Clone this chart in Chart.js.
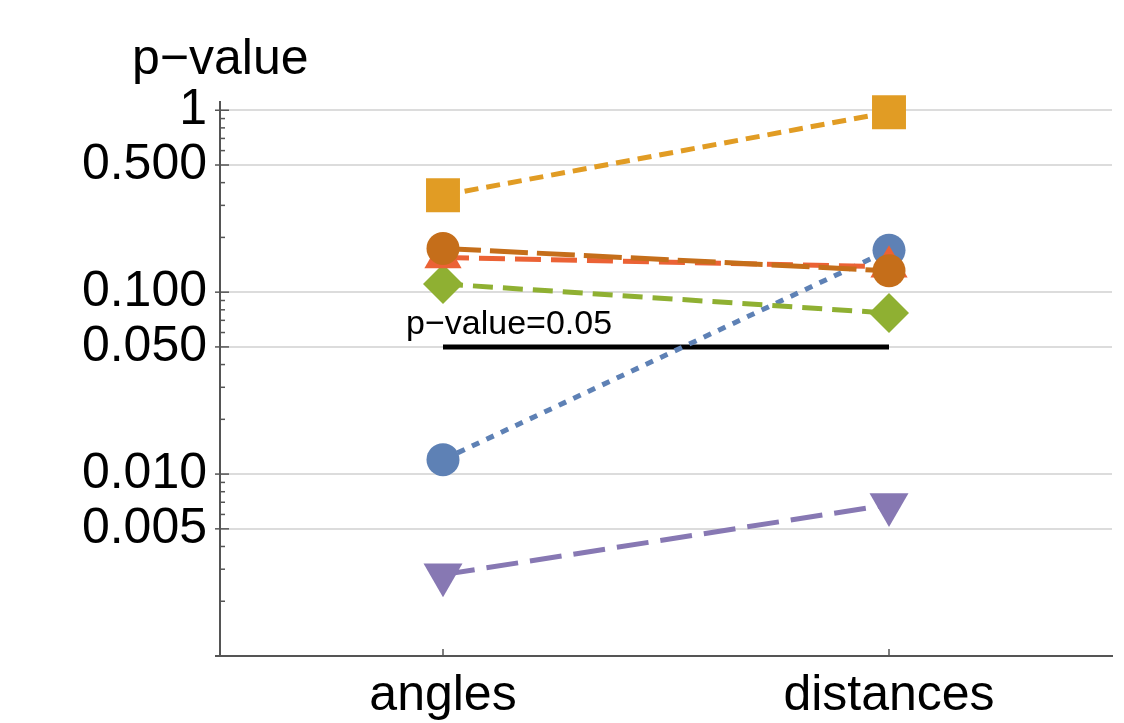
<!DOCTYPE html>
<html>
<head>
<meta charset="utf-8">
<script src="https://cdn.jsdelivr.net/npm/chart.js@4.4.1/dist/chart.umd.min.js"></script>
<style>
    html, body { margin: 0; padding: 0; background: #fff; }
</style>
</head>
<body>
<canvas id="pvalueChart" width="1124" height="723"></canvas>
<script>
// data
const categories = ['angles', 'distances'];
const blueValues = [0.0120, 0.170];
const orangeValues = [0.341, 0.975];
const greenValues = [0.111, 0.0767];
const redValues = [0.155, 0.138];
const purpleValues = [0.0028, 0.0068];
const brownValues = [0.174, 0.131];
const thresholdValues = [0.05, 0.05];
const thresholdLabel = 'p\u2212value=0.05';
const yTitle = 'p\u2212value';
const yTickValues = [1, 0.5, 0.1, 0.05, 0.01, 0.005];
const yTickLabels = ['1', '0.500', '0.100', '0.050', '0.010', '0.005'];

const FONT = '"Liberation Sans", Arial, sans-serif';
const AXIS_COLOR = '#555555';

function majorIndex(v) {
    return yTickValues.findIndex(t => Math.abs(t - v) / t < 1e-6);
}

// minor ticks every 1..9 per decade, like the original axis
function buildLogTicks() {
    const out = [];
    [0.001, 0.01, 0.1].forEach(d => {
        for (let m = 1; m <= 9; m++) {
            if (d === 0.001 && m === 1) continue;
            out.push({ value: Number((m * d).toPrecision(3)) });
        }
    });
    out.push({ value: 1 });
    return out;
}

// ticks drawn inside the axes, title and threshold text
const extrasPlugin = {
    id: 'extras',
    afterDraw(chart) {
        const ctx = chart.ctx;
        const x = chart.scales.x;
        const y = chart.scales.y;
        const area = chart.chartArea;
        ctx.save();
        ctx.strokeStyle = AXIS_COLOR;
        ctx.lineWidth = 1.5;
        y.ticks.forEach(t => {
            const py = y.getPixelForValue(t.value);
            const major = majorIndex(t.value) >= 0;
            ctx.beginPath();
            ctx.moveTo(area.left - (major ? 5 : 0), py);
            ctx.lineTo(area.left + (major ? 9 : 5), py);
            ctx.stroke();
        });
        categories.forEach((c, i) => {
            const px = x.getPixelForValue(i);
            ctx.beginPath();
            ctx.moveTo(px, area.bottom);
            ctx.lineTo(px, area.bottom - 7);
            ctx.stroke();
        });
        // axis line runs a little past the y axis, as in the original
        ctx.lineWidth = 2;
        ctx.beginPath();
        ctx.moveTo(area.left - 5, area.bottom);
        ctx.lineTo(area.left, area.bottom);
        ctx.stroke();

        ctx.fillStyle = '#000';
        ctx.textBaseline = 'alphabetic';
        ctx.textAlign = 'left';
        ctx.font = '50px ' + FONT;
        ctx.fillText(yTitle, 132, 74);

        ctx.font = '34px ' + FONT;
        ctx.fillText(thresholdLabel, x.getPixelForValue(0) - 37, y.getPixelForValue(thresholdValues[0]) - 13);
        ctx.restore();
    }
};

function series(data, color, style, radius, dash, order, rotation) {
    return {
        data: data,
        borderColor: color,
        backgroundColor: color,
        borderWidth: 5,
        borderDash: dash,
        pointStyle: style,
        pointRadius: radius,
        pointRotation: rotation || 0,
        pointBorderWidth: 0,
        pointHoverRadius: radius,
        order: order,
        clip: false
    };
}

new Chart(document.getElementById('pvalueChart'), {
    type: 'line',
    data: {
        labels: categories,
        datasets: [
            series(brownValues, '#C56E1A', 'circle', 16.5, [38, 9], 1),
            series(purpleValues, '#8778B3', 'triangle', 22.5, [32, 12], 2, 180),
            series(redValues, '#EB6235', 'triangle', 21.5, [26, 10], 3),
            series(greenValues, '#8FB032', 'rectRot', 20, [20, 10], 4),
            series(orangeValues, '#E19C24', 'rect', 24, [14, 8], 5),
            series(blueValues, '#5E81B5', 'circle', 16.5, [8, 8], 6),
            {
                data: thresholdValues,
                borderColor: '#000',
                borderWidth: 5,
                pointRadius: 0,
                order: 7
            }
        ]
    },
    options: {
        responsive: false,
        animation: false,
        layout: { autoPadding: false, padding: { left: 0, top: 102, right: 12, bottom: 0 } },
        plugins: {
            legend: { display: false },
            tooltip: { enabled: false }
        },
        scales: {
            x: {
                type: 'category',
                offset: true,
                afterFit(scale) {
                    scale.height = 67;
                    scale.paddingLeft = 0;
                    scale.paddingRight = 0;
                },
                grid: { display: false },
                border: { color: AXIS_COLOR, width: 2 },
                ticks: {
                    color: '#000',
                    padding: 2,
                    font: { size: 50, family: FONT }
                }
            },
            y: {
                type: 'logarithmic',
                min: 0.001,
                max: 1.11,
                afterFit(scale) { scale.width = 220; },
                afterBuildTicks(scale) { scale.ticks = buildLogTicks(); },
                grid: {
                    drawTicks: false,
                    lineWidth: 2,
                    color: (c) => (c.tick && majorIndex(c.tick.value) >= 0) ? '#dcdcdc' : 'rgba(0,0,0,0)'
                },
                border: { color: AXIS_COLOR, width: 2 },
                ticks: {
                    autoSkip: false,
                    color: '#000',
                    padding: 13,
                    font: { size: 50, family: FONT },
                    callback: (v) => {
                        const i = majorIndex(v);
                        return i >= 0 ? yTickLabels[i] : '';
                    }
                }
            }
        }
    },
    plugins: [extrasPlugin]
});
</script>
</body>
</html>
